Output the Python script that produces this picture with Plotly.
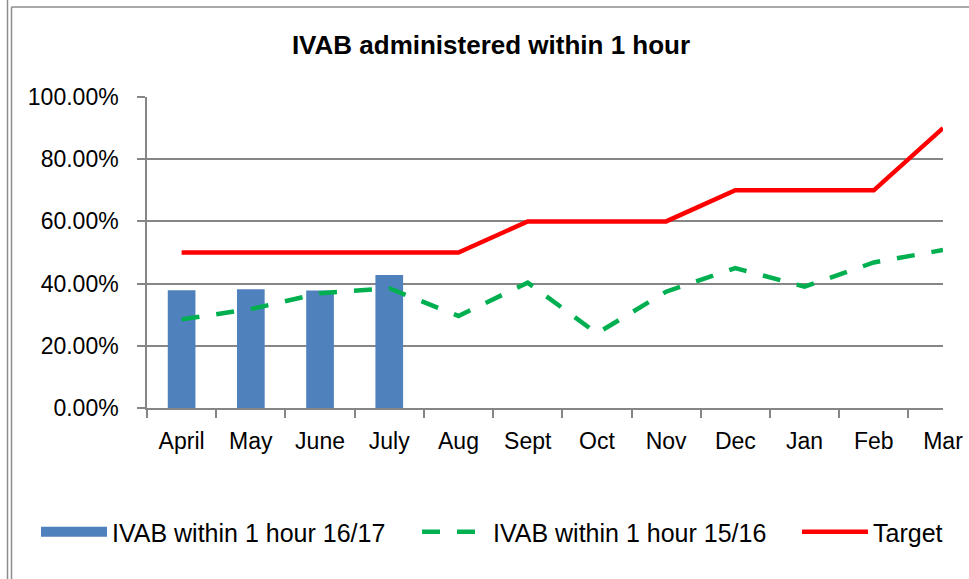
import plotly.graph_objects as go

months = ["April", "May", "June", "July", "Aug", "Sept", "Oct", "Nov", "Dec", "Jan", "Feb", "Mar"]
ivab_1617 = [0.379, 0.382, 0.378, 0.428]
ivab_1516 = [0.285, 0.318, 0.369, 0.385, 0.296, 0.403, 0.240, 0.374, 0.450, 0.390, 0.468, 0.508]
target = [0.50, 0.50, 0.50, 0.50, 0.50, 0.60, 0.60, 0.60, 0.70, 0.70, 0.70, 0.90]
y_ticks = [0, 0.2, 0.4, 0.6, 0.8, 1.0]

FONT = "Liberation Sans"
W, H = 969, 579
L, R, T, B = 147, 26, 97, 171
pw, ph = W - L - R, H - T - B

def px_x(p):
    return (p - L) / pw

def px_y(p):
    return (H - B - p) / ph

fig = go.Figure()
fig.add_trace(go.Bar(
    x=months[:len(ivab_1617)], y=ivab_1617, name="IVAB within 1 hour 16/17",
    marker=dict(color="#4F81BD", line=dict(width=0)), showlegend=False, legendgroup="a",
))
# legend key for the bars, drawn as a wide flat block like the original
fig.add_trace(go.Scatter(
    x=[None], y=[None], name="IVAB within 1 hour 16/17", mode="lines", legendgroup="a",
    line=dict(color="#4F81BD", width=13),
))
fig.add_trace(go.Scatter(
    x=months, y=ivab_1516, name="IVAB within 1 hour 15/16", mode="lines",
    line=dict(color="#00B050", width=4.5, dash="18px,17px"),
))
fig.add_trace(go.Scatter(
    x=months, y=target, name="Target", mode="lines", legend="legend2",
    line=dict(color="#FF0000", width=4.5),
))

frame_color = "#8C8C8C"
shapes = [
    dict(type="line", xref="paper", yref="paper", x0=px_x(7.5), x1=px_x(7.5), y0=px_y(0), y1=px_y(579), line=dict(color=frame_color, width=1.5)),
    dict(type="line", xref="paper", yref="paper", x0=px_x(11.5), x1=px_x(11.5), y0=px_y(7), y1=px_y(579), line=dict(color=frame_color, width=1.5)),
    dict(type="line", xref="paper", yref="paper", x0=px_x(11.5), x1=px_x(969), y0=px_y(7), y1=px_y(7), line=dict(color=frame_color, width=1.5)),
]

legend_common = dict(orientation="h", xanchor="left", y=px_y(532), yanchor="middle",
                     font=dict(family=FONT, size=25, color="black"), itemwidth=66,
                     traceorder="normal", bgcolor="rgba(0,0,0,0)")

fig.update_layout(
    width=W, height=H,
    margin=dict(l=L, r=R, t=T, b=B, pad=0, autoexpand=False),
    paper_bgcolor="white", plot_bgcolor="white",
    font=dict(family=FONT, color="black", size=23),
    title=dict(text="<b>IVAB administered within 1 hour</b>", x=491 / W, xref="container", xanchor="center",
               y=1 - 45 / H, yref="container", yanchor="middle", font=dict(family=FONT, size=26, color="black")),
    bargap=0.6,
    showlegend=True,
    legend=dict(x=px_x(36), entrywidth=300, **legend_common),
    legend2=dict(x=px_x(797), **legend_common),
    shapes=shapes,
)
fig.update_xaxes(
    type="category", categoryorder="array", categoryarray=months, automargin=False,
    showline=True, linecolor="#868686", linewidth=1.5,
    ticks="outside", tickson="boundaries", ticklen=8, tickcolor="#868686", tickwidth=1.5,
    showgrid=False, ticklabelstandoff=12, tickfont=dict(size=23),
)
fig.update_yaxes(
    range=[0, 1], tickvals=y_ticks, tickformat=".2%", automargin=False,
    showline=True, linecolor="#868686", linewidth=1.5,
    ticks="outside", ticklen=8, tickcolor="#868686", tickwidth=1.5,
    showgrid=True, gridcolor="#868686", gridwidth=1.5, zeroline=False,
    ticklabelstandoff=14, tickfont=dict(size=23),
)

fig.write_html("out.html", config={"displayModeBar": False},
               post_script="document.body.style.margin='0';document.body.style.overflow='hidden';")
